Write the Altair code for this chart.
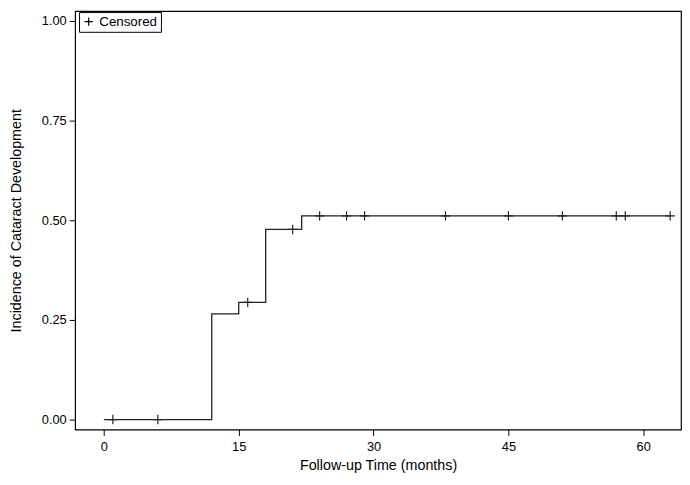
import altair as alt
import pandas as pd

# Step curve (event times, cumulative incidence)
step_time = [0, 12, 15, 18, 22, 63]
step_incidence = [0.0, 0.265, 0.294, 0.477, 0.511, 0.511]

# Censored observations
cens_time = [1, 6, 16, 21, 24, 27, 29, 38, 45, 51, 57, 58, 63]
cens_incidence = [0.0, 0.0, 0.294, 0.477, 0.511, 0.511, 0.511, 0.511, 0.511,
                  0.511, 0.511, 0.511, 0.511]

x_ticks = [0, 15, 30, 45, 60]
y_ticks = [0.0, 0.25, 0.5, 0.75, 1.0]

FONT = "Liberation Sans, Arial"

step_df = pd.DataFrame({"t": step_time, "inc": step_incidence})
cens_df = pd.DataFrame({"t": cens_time, "inc": cens_incidence,
                        "label": ["Censored"] * len(cens_time)})

xscale = alt.Scale(domain=[-3.2, 64.2], nice=False, zero=False)
yscale = alt.Scale(domain=[-0.025, 1.025], nice=False, zero=False)

xaxis = alt.Axis(values=x_ticks, title="Follow-up Time (months)", grid=False,
                 domain=False, tickColor="black", tickSize=6, labelFontSize=13,
                 titleFontSize=14.5, labelPadding=5, titlePadding=6,
                 labelColor="black", titleColor="black", titleFontWeight="normal",
                 labelFont=FONT, titleFont=FONT)
yaxis = alt.Axis(values=y_ticks, format=".2f", title="Incidence of Cataract Development",
                 grid=False, domain=False, tickColor="black", tickSize=6,
                 labelFontSize=13, titleFontSize=14.5, labelPadding=3, titlePadding=18,
                 labelColor="black", titleColor="black", titleFontWeight="normal",
                 labelFont=FONT, titleFont=FONT)

line = alt.Chart(step_df).mark_line(interpolate="step-after", color="#222222",
                                    strokeWidth=1.3).encode(
    x=alt.X("t:Q", scale=xscale, axis=xaxis),
    y=alt.Y("inc:Q", scale=yscale, axis=yaxis),
)

cross = "M0,-1V1M-1,0H1"
points = alt.Chart(cens_df).mark_point(filled=False, color="#222222",
                                       strokeWidth=1.2, size=90, opacity=1).encode(
    x=alt.X("t:Q", scale=xscale),
    y=alt.Y("inc:Q", scale=yscale),
    shape=alt.Shape("label:N", scale=alt.Scale(range=[cross]),
                    legend=alt.Legend(title=None, orient="none", legendX=4, legendY=1,
                                      strokeColor="black", fillColor="white",
                                      padding=3, labelFontSize=13.5, labelFont=FONT,
                                      labelColor="black", symbolSize=70,
                                      symbolStrokeColor="black",
                                      symbolStrokeWidth=1.2)),
)

chart = (line + points).properties(
    width=614, height=424, background="white",
    padding={"left": 0, "top": 0, "right": 1, "bottom": 0}
).configure_view(stroke="black", strokeWidth=1.2)

chart.save("out.html", embed_options={"renderer": "svg", "actions": False})
